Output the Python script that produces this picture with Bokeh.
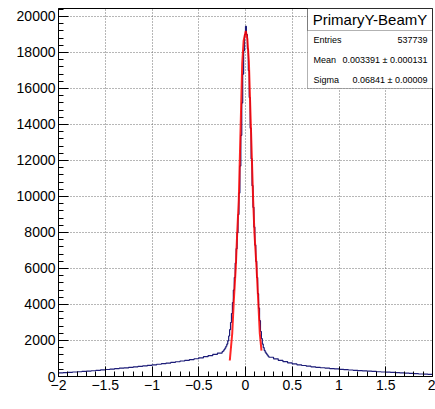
import numpy as np
from bokeh.plotting import figure
from bokeh.models import FixedTicker, Label, BoxAnnotation, Range1d
from bokeh.embed import file_html
from bokeh.resources import INLINE

# ---- histogram data ----
left_tail_counts = [200, 215, 230, 250, 265, 280, 300, 320, 345, 370, 390, 415, 440, 460,
                    480, 510, 540, 565, 590, 620, 650, 680, 715, 745, 780, 820, 860, 900,
                    940, 985, 1040, 1100, 1160, 1230, 1300]
core_counts = [1380, 1420, 1500, 1580, 1680, 1800, 1980, 2250, 2600, 3000,
               3500, 4100, 4800, 5500, 6300, 7100, 8000, 9000, 10200, 11700,
               13400, 15200, 16800, 18100, 19000, 19450, 19000, 18200, 17000, 15500,
               13800, 12100, 10600, 9400, 8300, 7300, 6400, 5500, 4600, 3800,
               3100, 2500, 2100, 1800, 1600, 1450, 1350, 1270, 1200, 1130]
right_tail_counts = [1070, 980, 900, 830, 760, 700, 650, 610, 575, 540, 510, 485, 460, 440,
                     420, 400, 380, 360, 345, 330, 310, 295, 280, 265, 250, 240, 225, 210,
                     200, 185, 170, 155, 140, 130, 115]

edges = np.concatenate([np.linspace(-2.0, -0.30, 35),
                        np.linspace(-0.25, 0.24, 50),
                        np.linspace(0.25, 2.0, 36)])
counts = left_tail_counts + core_counts + right_tail_counts

# ---- fit curve ----
fit_x = [-0.168, -0.142, -0.125, -0.104, -0.089, -0.072, -0.050, -0.035, -0.020, 0.003,
         0.020, 0.036, 0.055, 0.082, 0.096, 0.118, 0.136, 0.153, 0.171]
fit_y = [890, 2390, 4220, 6070, 7940, 9780, 14300, 17400, 18650, 19200,
         18750, 17500, 14300, 9780, 7940, 6070, 4220, 2390, 1440]

# ---- axes ----
x_ticks = [-2, -1.5, -1, -0.5, 0, 0.5, 1, 1.5, 2]
x_tick_labels = ["\u22122", "\u22121.5", "\u22121", "\u22120.5", "0", "0.5", "1", "1.5", "2"]
y_ticks = [0, 2000, 4000, 6000, 8000, 10000, 12000, 14000, 16000, 18000, 20000]

# ---- stats box ----
stat_title = "PrimaryY-BeamY"
stat_names = ["Entries", "Mean", "Sigma"]
stat_values = ["537739", "0.003391 \u00b1 0.000131", "0.06841 \u00b1 0.00009"]

FONT = "Liberation Sans"

p = figure(width=435, height=409, output_backend="svg", toolbar_location=None,
           x_range=Range1d(-2, 2), y_range=Range1d(0, 20444),
           min_border_left=58, min_border_right=3, min_border_top=8, min_border_bottom=33)
p.background_fill_color = "white"
p.border_fill_color = "white"
p.outline_line_color = "black"
p.outline_line_width = 1

# step path
sx, sy = [], []
for i, c in enumerate(counts):
    sx += [edges[i], edges[i + 1]]
    sy += [c, c]
p.line(sx, sy, line_color="#1c1c78", line_width=1.2)
p.line(fit_x, fit_y, line_color="#ff0000", line_width=2, line_alpha=0.85)

minor_x = [round(-2 + 0.1 * i, 2) for i in range(41)]
minor_y = [400 * i for i in range(52)]
p.xaxis.ticker = FixedTicker(ticks=x_ticks, minor_ticks=minor_x)
p.yaxis.ticker = FixedTicker(ticks=y_ticks, minor_ticks=minor_y)
p.xaxis.major_label_overrides = {t: l for t, l in zip(x_ticks, x_tick_labels)}

for ax in (p.xaxis[0], p.yaxis[0]):
    ax.major_tick_in = 10
    ax.major_tick_out = 0
    ax.minor_tick_in = 5
    ax.minor_tick_out = 0
    ax.axis_line_color = "black"
    ax.major_tick_line_color = "black"
    ax.minor_tick_line_color = "black"
    ax.major_label_text_font = FONT
    ax.major_label_text_font_size = "14px"
    ax.major_label_text_color = "black"
p.yaxis.major_label_standoff = 3
p.xaxis.major_label_standoff = 3

for g in (p.xgrid[0], p.ygrid[0]):
    g.grid_line_color = "#6e6e6e"
    g.grid_line_dash = "1 2"
    g.grid_line_width = 1

# x-axis title
p.add_layout(Label(x=374, y=-25, x_units="screen", y_units="screen", text="dy, cm",
                   text_align="right", text_baseline="middle", text_font=FONT,
                   text_font_size="14px", text_color="black"))

# stats box (frame-relative screen units)
p.add_layout(BoxAnnotation(left=249, right=374, top=368, bottom=288,
                           left_units="screen", right_units="screen",
                           top_units="screen", bottom_units="screen",
                           fill_color="white", fill_alpha=1, line_color="black", line_width=1))
p.add_layout(BoxAnnotation(left=249, right=374, top=368, bottom=346,
                           left_units="screen", right_units="screen",
                           top_units="screen", bottom_units="screen",
                           fill_alpha=0, line_color="black", line_width=1))
p.add_layout(Label(x=311.5, y=357, x_units="screen", y_units="screen", text=stat_title,
                   text_align="center", text_baseline="middle", text_font=FONT,
                   text_font_size="15px", text_color="black"))
row_y = [337, 317, 297]
for name, val, yy in zip(stat_names, stat_values, row_y):
    p.add_layout(Label(x=255, y=yy, x_units="screen", y_units="screen", text=name,
                       text_align="left", text_baseline="middle", text_font=FONT,
                       text_font_size="9px", text_color="black"))
    p.add_layout(Label(x=369, y=yy, x_units="screen", y_units="screen", text=val,
                       text_align="right", text_baseline="middle", text_font=FONT,
                       text_font_size="9px", text_color="black"))

open("out.html", "w").write(file_html(p, INLINE))
